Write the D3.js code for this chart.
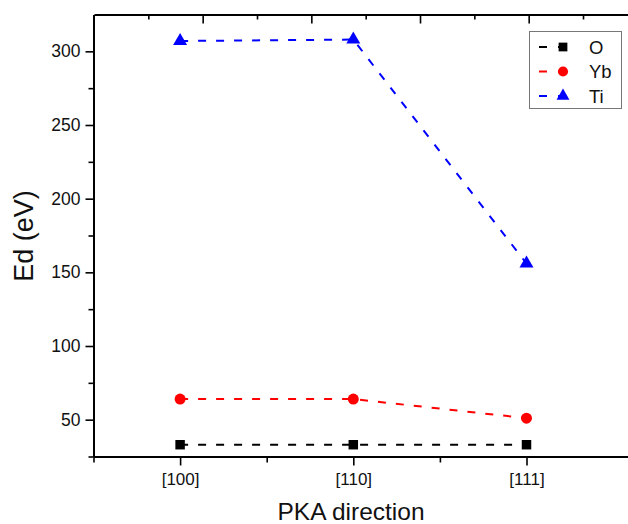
<!DOCTYPE html>
<html>
<head>
<meta charset="utf-8">
<script src="https://cdn.jsdelivr.net/npm/d3@7"></script>
<style>
  html, body { margin: 0; padding: 0; background: #fff; }
  svg { display: block; font-family: "Liberation Sans", Arial, sans-serif; }
</style>
</head>
<body>
<svg id="chart" width="628" height="524"></svg>
<script>
// PKA directions on the x axis
const categories = ["[100]", "[110]", "[111]"];

// Displacement threshold energies (eV) per sublattice
const valuesO  = [33, 33, 33];
const valuesYb = [64, 64, 51];
const valuesTi = [307, 308, 156];

// Labelled y ticks
const yTickLabels = [50, 100, 150, 200, 250, 300];

const series = [
  { name: "O",  values: valuesO,  color: "#000000", symbol: d3.symbolSquare,   size: 90 },
  { name: "Yb", values: valuesYb, color: "#ff0000", symbol: d3.symbolCircle,   size: 95 },
  { name: "Ti", values: valuesTi, color: "#0000ff", symbol: d3.symbolTriangle, size: 85 }
];

const svg = d3.select("#chart");
const plotLeft = 93.5, plotTop = 14.5, plotBottom = 456.5;

// Category positions: index 1..3, padded half a step on the left
const x = d3.scaleLinear().domain([0.5, 3.7]).range([plotLeft, plotLeft + 3.2 * 173.2]);
const y = d3.scaleLinear().domain([25, 325]).range([plotBottom, plotTop]);
// Secondary top axis carries its own unlabelled ticks
const xTop = d3.scaleLinear().domain([0, 5]).range([plotLeft + 0.5, plotLeft + 0.5 + 5 * 108.67]);

const axisStroke = 2;
const labelFont = "Liberation Sans, Arial, sans-serif";

// Bottom axis
const gx = svg.append("g").attr("transform", `translate(0,${plotBottom})`);
gx.call(d3.axisBottom(x).tickValues([0.5, 1.5, 2.5]).tickSize(6).tickSizeOuter(0).tickFormat(""));
gx.selectAll(".tick line").attr("stroke-width", 1.6);
gx.select(".domain").attr("stroke-width", axisStroke);
const gxMaj = svg.append("g").attr("transform", `translate(0,${plotBottom})`);
gxMaj.call(d3.axisBottom(x).tickValues([1, 2, 3]).tickSize(9).tickSizeOuter(0)
  .tickFormat(d => categories[d - 1]).tickPadding(7));
gxMaj.select(".domain").remove();
gxMaj.selectAll(".tick line").attr("stroke-width", 1.6);
gxMaj.selectAll(".tick text").attr("font-size", 17).attr("fill", "#111")
  .attr("font-family", labelFont);

// Top axis
const gt = svg.append("g").attr("transform", `translate(0,${plotTop})`);
gt.call(d3.axisTop(xTop).tickValues(d3.range(0.5, 5, 1)).tickSize(-5).tickSizeOuter(0).tickFormat(""));
gt.select(".domain").attr("stroke-width", axisStroke);
gt.selectAll(".tick line").attr("stroke-width", 1.6);
const gtMaj = svg.append("g").attr("transform", `translate(0,${plotTop})`);
gtMaj.call(d3.axisTop(xTop).tickValues(d3.range(1, 6, 1)).tickSize(-9).tickSizeOuter(0).tickFormat(""));
gtMaj.select(".domain").remove();
gtMaj.selectAll(".tick line").attr("stroke-width", 1.6);

// Left axis
const gy = svg.append("g").attr("transform", `translate(${plotLeft},0)`);
gy.call(d3.axisLeft(y).tickValues(d3.range(25, 325, 50)).tickSize(5).tickSizeOuter(0).tickFormat(""));
gy.select(".domain").attr("stroke-width", axisStroke);
gy.selectAll(".tick line").attr("stroke-width", 1.6);
const gyMaj = svg.append("g").attr("transform", `translate(${plotLeft},0)`);
gyMaj.call(d3.axisLeft(y).tickValues(yTickLabels).tickSize(8).tickSizeOuter(0).tickPadding(5));
gyMaj.select(".domain").remove();
gyMaj.selectAll(".tick line").attr("stroke-width", 1.6);
gyMaj.selectAll(".tick text").attr("font-size", 17.5).attr("fill", "#111")
  .attr("font-family", labelFont);

// Axis titles
svg.append("text")
  .attr("x", 351).attr("y", 520)
  .attr("text-anchor", "middle")
  .attr("font-size", 24.5).attr("fill", "#111")
  .text("PKA direction");
svg.append("text")
  .attr("transform", `translate(33,236) rotate(-90)`)
  .attr("text-anchor", "middle")
  .attr("font-size", 27).attr("fill", "#111")
  .text("Ed (eV)");

// Series lines and markers
const line = d3.line().x((d, i) => x(i + 1)).y(d => y(d));
series.forEach(s => {
  svg.append("path")
    .datum(s.values)
    .attr("d", line)
    .attr("fill", "none")
    .attr("stroke", s.color)
    .attr("stroke-width", 2)
    .attr("stroke-dasharray", "8,10");
  svg.selectAll(null)
    .data(s.values)
    .join("path")
    .attr("transform", (d, i) => `translate(${x(i + 1)},${y(d)})`)
    .attr("d", d3.symbol(s.symbol, s.size))
    .attr("fill", s.color);
});

// Legend
const lg = svg.append("g");
lg.append("rect")
  .attr("x", 529.5).attr("y", 31.5).attr("width", 92).attr("height", 77)
  .attr("fill", "#fff").attr("stroke", "#777").attr("stroke-width", 1);
series.forEach((s, i) => {
  const cy = 47 + i * 24.5;
  lg.append("line")
    .attr("x1", 539).attr("x2", 572).attr("y1", cy).attr("y2", cy)
    .attr("stroke", s.color).attr("stroke-width", 2)
    .attr("stroke-dasharray", "8,11");
  lg.append("path")
    .attr("transform", `translate(563,${cy})`)
    .attr("d", d3.symbol(s.symbol, s.size * 0.85))
    .attr("fill", s.color);
  lg.append("text")
    .attr("x", 589).attr("y", cy + 6.5)
    .attr("font-size", 18.5).attr("fill", "#111")
    .text(s.name);
});
</script>
</body>
</html>
